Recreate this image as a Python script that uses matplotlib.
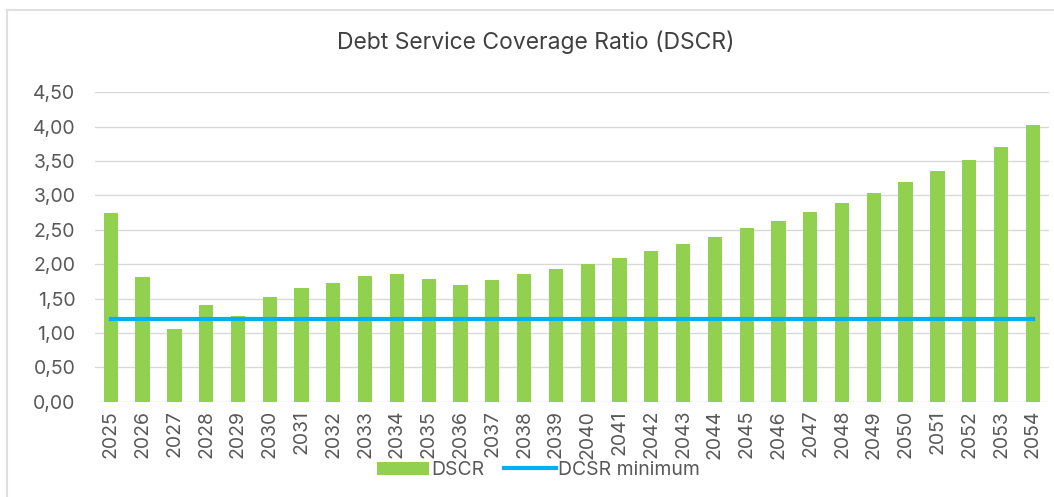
import numpy as np
import matplotlib.pyplot as plt
from matplotlib.ticker import FuncFormatter

years = list(range(2025, 2055))
dscr = [2.74, 1.82, 1.05, 1.40, 1.24, 1.52, 1.66, 1.73, 1.83, 1.86,
        1.79, 1.70, 1.77, 1.86, 1.93, 2.00, 2.09, 2.19, 2.29, 2.40,
        2.52, 2.63, 2.76, 2.89, 3.03, 3.19, 3.35, 3.52, 3.71, 4.03]
dscr_min = [1.20] * len(years)

plt.rcParams['font.family'] = ['Inter', 'DejaVu Sans']

fig = plt.figure(figsize=(10.54, 4.97), dpi=100)
ax = fig.add_axes([0.090, 0.192, 0.905, 0.622])

x = np.arange(len(years))
bars = ax.bar(x, dscr, width=0.45, color='#92D050', label='DSCR', zorder=2)
line, = ax.plot(x, dscr_min, color='#00B0F0', linewidth=3, label='DCSR minimum', zorder=3)

ax.set_xlim(-0.5, len(years) - 0.5)
ax.set_ylim(0, 4.5)
ax.set_yticks(np.arange(0, 4.51, 0.5))
ax.yaxis.set_major_formatter(FuncFormatter(lambda v, p: f"{v:.2f}".replace('.', ',')))
ax.set_xticks(x)
ax.set_xticklabels([str(y) for y in years], rotation=90)

ax.grid(axis='y', color='#D9D9D9', linewidth=1, zorder=0)
for s in ax.spines.values():
    s.set_visible(False)
ax.tick_params(axis='both', length=0, labelsize=14, labelcolor='#595959')
ax.tick_params(axis='y', pad=14)
ax.tick_params(axis='x', pad=6)

fig.text(0.508, 0.915, 'Debt Service Coverage Ratio (DSCR)', fontsize=16.5,
         color='#404040', ha='center', va='center')

fig.legend([bars, line], ['DSCR', 'DCSR minimum'], loc='center',
           bbox_to_anchor=(0.511, 0.054), ncol=2, frameon=False,
           fontsize=14, labelcolor='#595959', handlelength=2.7, handletextpad=0.1,
           columnspacing=1.0)

# light outer frame of the chart area
fig.add_artist(plt.Line2D([0.007, 1.0], [0.98, 0.98], color='#E0E0E0', linewidth=1.5,
                          transform=fig.transFigure))
fig.add_artist(plt.Line2D([0.007, 0.007], [0.0, 0.98], color='#E0E0E0', linewidth=1.5,
                          transform=fig.transFigure))

fig.savefig('out.png', dpi=100)
